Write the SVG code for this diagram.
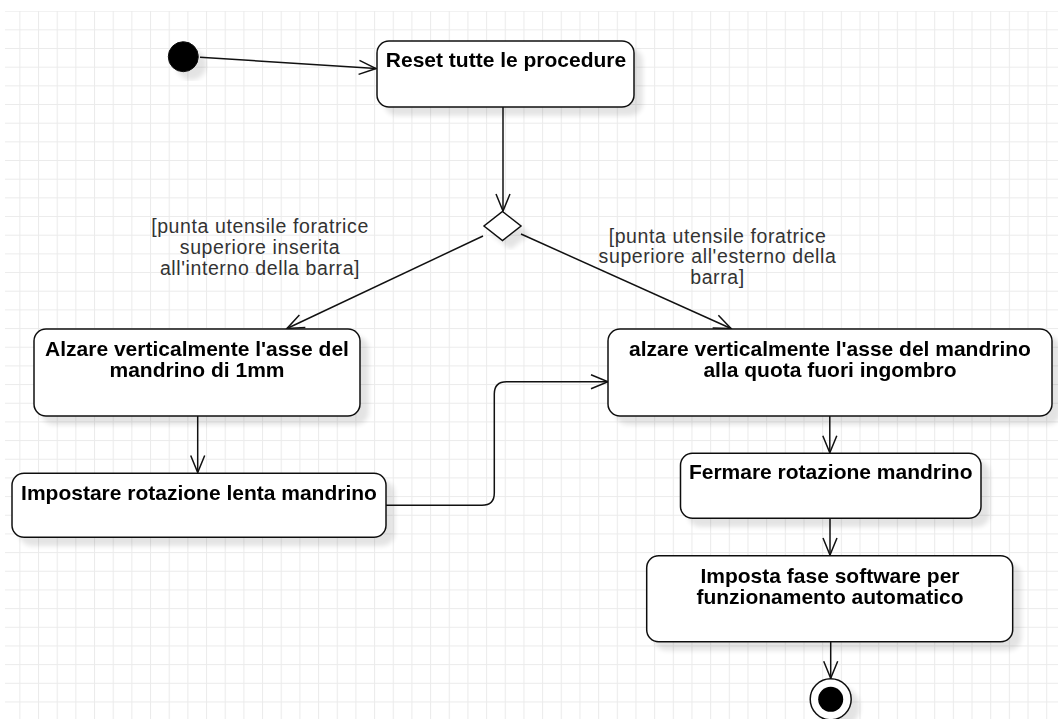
<svg xmlns="http://www.w3.org/2000/svg" width="1058" height="719" viewBox="0 0 1058 719">
  <style>
    .node { fill: #ffffff; stroke: #111111; stroke-width: 1.5; }
    .label { font-family: "Liberation Sans", Arial, Helvetica, sans-serif; font-size: 21px; font-weight: bold; fill: #000000; text-anchor: middle; }
    .guard { font-family: "Liberation Sans", Arial, Helvetica, sans-serif; font-size: 19.5px; letter-spacing: 0.6px; fill: #333333; text-anchor: middle; }
    .edge { fill: none; stroke: #111111; stroke-width: 1.5; }
  </style>
  <defs>
    <pattern id="grid" patternUnits="userSpaceOnUse" x="0.67" y="10.67" width="18.67" height="18.67">
      <rect width="18.67" height="18.67" fill="#ffffff"/>
      <path d="M0 0.5 H18.67 M0.5 0 V18.67" stroke="#ebebeb" stroke-width="1" fill="none"/>
    </pattern>
    <filter id="shadow" x="-20%" y="-20%" width="150%" height="150%">
      <feGaussianBlur in="SourceAlpha" stdDeviation="2.5"/>
      <feOffset dx="8" dy="8" result="off"/>
      <feComponentTransfer><feFuncA type="linear" slope="0.11"/></feComponentTransfer>
      <feMerge><feMergeNode/><feMergeNode in="SourceGraphic"/></feMerge>
    </filter>
    <marker id="open" markerUnits="userSpaceOnUse" markerWidth="24" markerHeight="20" viewBox="-20 -10 24 20" refX="0" refY="0" orient="auto">
      <path d="M-17 -7 L0 0 L-17 7" fill="none" stroke="#111111" stroke-width="1.5"/>
    </marker>
  </defs>

  <!-- canvas background -->
  <rect width="1058" height="719" fill="#ffffff"/>
  <rect x="5" y="11" width="1053" height="708" fill="url(#grid)"/>

  <!-- connectors -->
  <g id="connectors">
    <path class="edge" d="M200 57.3 L376 68.5" marker-end="url(#open)"/>
    <path class="edge" d="M503 107 L503 211" marker-end="url(#open)"/>
    <path class="edge" d="M483 236 L287 328.5" marker-end="url(#open)"/>
    <path class="edge" d="M521 234 L731 328.5" marker-end="url(#open)"/>
    <path class="edge" d="M197.7 416 L197.7 472.5" marker-end="url(#open)"/>
    <path class="edge" d="M386 505.3 L482 505.3 Q494.3 505.3 494.3 493 L494.3 394 Q494.3 381.7 506.6 381.7 L608 381.7" marker-end="url(#open)"/>
    <path class="edge" d="M829.8 416 L829.8 452.8" marker-end="url(#open)"/>
    <path class="edge" d="M830 518.5 L830 555" marker-end="url(#open)"/>
    <path class="edge" d="M830.7 642 L830.7 678.3" marker-end="url(#open)"/>
    <text class="guard" x="260" y="233.3">[punta utensile foratrice</text>
    <text class="guard" x="260" y="254">superiore inserita</text>
    <text class="guard" x="260" y="274.5">all'interno della barra]</text>
    <text class="guard" x="717.5" y="242.5">[punta utensile foratrice</text>
    <text class="guard" x="717.5" y="263.3">superiore all'esterno della</text>
    <text class="guard" x="717.5" y="283.5">barra]</text>
  </g>

  <!-- initial state -->
  <g id="start" filter="url(#shadow)">
    <circle cx="183.3" cy="56.7" r="15" fill="#000000" stroke="#111111" stroke-width="1"/>
  </g>

  <g id="reset" filter="url(#shadow)">
    <rect class="node" x="377" y="41" width="257" height="66" rx="12"/>
    <text class="label" x="506" y="67.3">Reset tutte le procedure</text>
  </g>

  <g id="decision" filter="url(#shadow)">
    <path class="node" d="M502.5 211.5 L521 226 L502.5 240.5 L484 226 Z"/>
  </g>

  <g id="alza1mm" filter="url(#shadow)">
    <rect class="node" x="34" y="329" width="326" height="87" rx="12"/>
    <text class="label" x="197" y="356">Alzare verticalmente l'asse del</text>
    <text class="label" x="197" y="377.3">mandrino di 1mm</text>
  </g>

  <g id="rotazioneLenta" filter="url(#shadow)">
    <rect class="node" x="12" y="473.3" width="374" height="64" rx="12"/>
    <text class="label" x="199" y="500">Impostare rotazione lenta mandrino</text>
  </g>

  <g id="alzaFuoriIngombro" filter="url(#shadow)">
    <rect class="node" x="608" y="329" width="444" height="87" rx="12"/>
    <text class="label" x="830" y="355.5">alzare verticalmente l'asse del mandrino</text>
    <text class="label" x="830" y="376.5">alla quota fuori ingombro</text>
  </g>

  <g id="fermaRotazione" filter="url(#shadow)">
    <rect class="node" x="680.5" y="453.3" width="300.5" height="65" rx="12"/>
    <text class="label" x="830.7" y="479.3">Fermare rotazione mandrino</text>
  </g>

  <g id="faseSoftware" filter="url(#shadow)">
    <rect class="node" x="646.7" y="555.7" width="366" height="86" rx="12"/>
    <text class="label" x="830" y="582.7">Imposta fase software per</text>
    <text class="label" x="830" y="604">funzionamento automatico</text>
  </g>

  <!-- final state -->
  <g id="end" filter="url(#shadow)">
    <circle cx="830.7" cy="699.3" r="20.5" fill="#ffffff" stroke="#111111" stroke-width="1.5"/>
    <circle cx="830.7" cy="699.3" r="12.5" fill="#000000"/>
  </g>
</svg>
